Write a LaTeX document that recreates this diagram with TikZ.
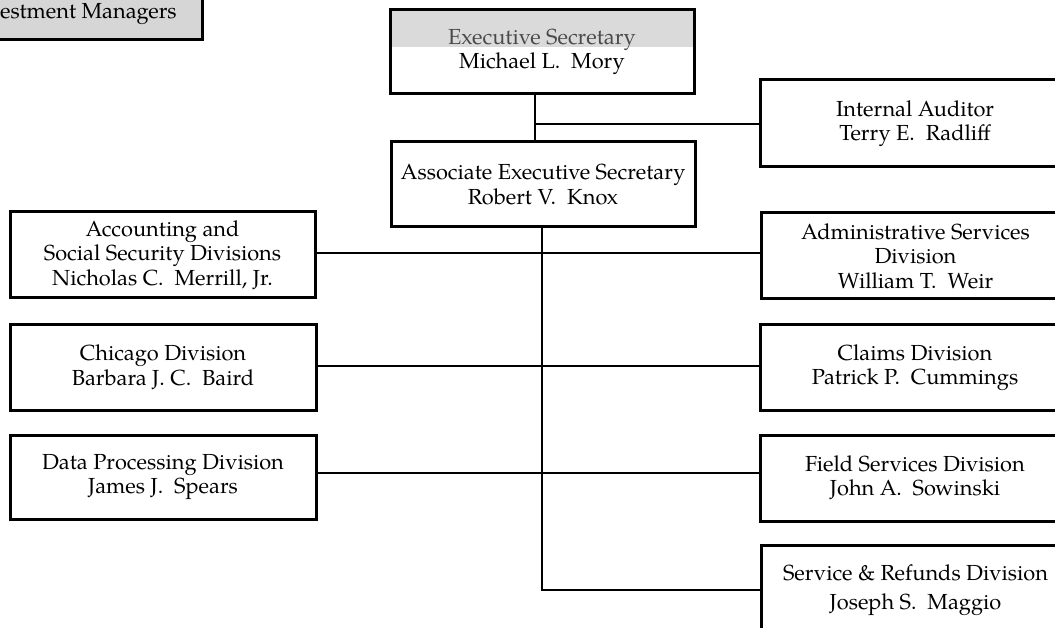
\documentclass[tikz,border=0pt]{standalone}
\usepackage{fontspec}
\setmainfont{TeX Gyre Pagella}
\definecolor{boxgray}{HTML}{D6D6D6}
\definecolor{topgray}{HTML}{DADADA}
\definecolor{softink}{HTML}{4A4A4A}
\begin{document}
\begin{tikzpicture}[x=1pt,y=-1pt,
  orgbox/.style={draw=black, line width=3pt, inner sep=0pt, align=center,
    font=\fontsize{21.8}{24.5}\selectfont},
  link/.style={draw=black, line width=2.6pt}]
\clip (0,0) rectangle (1055,628);
\fill[white] (0,0) rectangle (1055,628);

% partially visible box top-left
\node[orgbox, fill=boxgray, minimum width=312pt, minimum height=56pt] (inv) at (46,12) {};
\node[anchor=west, inner sep=0pt, font=\fontsize{21.8}{24.5}\selectfont] (invtext) at (0,14) {estment Managers};

% Executive Secretary (upper half grey)
\fill[topgray] (390,10) rectangle (694,47);
\node[orgbox, minimum width=304pt, minimum height=84pt] (exec) at (542,52)
  {\textcolor{softink}{Executive Secretary}\\Michael L.\ \ Mory};

\node[orgbox, minimum width=310pt, minimum height=87pt] (aud) at (915,123.5)
  {Internal Auditor\\Terry E.\ \ Radliff};

\node[orgbox, minimum width=304pt, minimum height=85pt] (assoc) at (543,184.5)
  {Associate Executive Secretary\\Robert V.\ \ Knox};

\node[orgbox, minimum width=305pt, minimum height=86pt] (acct) at (162.5,255)
  {Accounting and\\Social Security Divisions\\Nicholas C.\ \ Merrill, Jr.};
\node[orgbox, minimum width=309pt, minimum height=86pt] (admin) at (915.5,256)
  {Administrative Services\\Division\\William T.\ \ Weir};

\node[orgbox, minimum width=306pt, minimum height=85pt] (chic) at (163,367.5)
  {Chicago Division\\Barbara J.\ C.\ \ Baird};
\node[orgbox, minimum width=310pt, minimum height=85pt] (claims) at (915,367.5)
  {Claims Division\\Patrick P.\ \ Cummings};

\node[orgbox, minimum width=306pt, minimum height=84pt] (data) at (163,477)
  {Data Processing Division\\James J.\ \ Spears};
\node[orgbox, minimum width=310pt, minimum height=86pt] (field) at (915,478)
  {Field Services Division\\John A.\ \ Sowinski};

\node[orgbox, minimum width=309pt, minimum height=90pt,
  font=\fontsize{21.8}{29}\selectfont] (serv) at (915.5,590)
  {Service \& Refunds Division\\Joseph S.\ \ Maggio};

% connectors
\coordinate (j1) at (535,124);
\draw[link] (exec.south -| j1) -- (assoc.north -| j1);
\draw[link] (j1) -- (aud.west |- j1);

\coordinate (trunk) at (542,590);
\draw[link] (assoc.south -| trunk) -- (trunk) -- (serv.west |- trunk);

\coordinate (r1) at (0,253);
\coordinate (r2) at (0,366);
\coordinate (r3) at (0,473);
\draw[link] (acct.east |- r1) -- (admin.west |- r1);
\draw[link] (chic.east |- r2) -- (claims.west |- r2);
\draw[link] (data.east |- r3) -- (field.west |- r3);
\end{tikzpicture}
\end{document}
